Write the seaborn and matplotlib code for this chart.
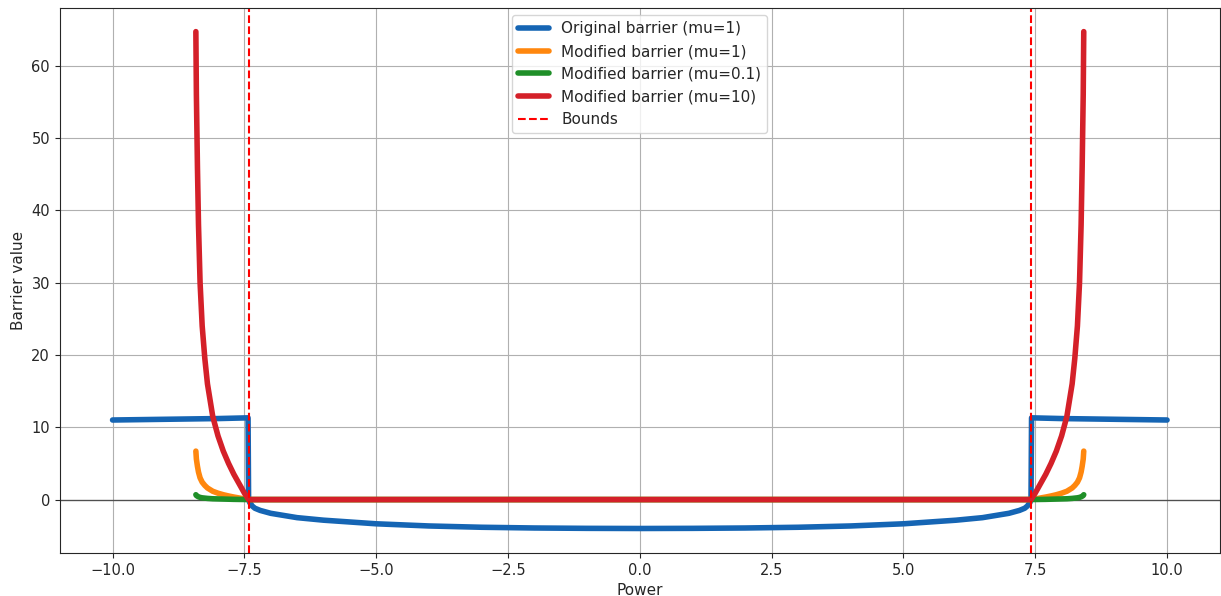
import pandas as pd
import seaborn as sns
import matplotlib
matplotlib.use('Agg')
import matplotlib.pyplot as plt


BOUND = 7.42

# original log barrier (mu=1)
blue_x = [-10.0, -9.0, -8.0, -7.43, -7.42, -7.40, -7.35, -7.30, -7.20, -7.00,
          -6.50, -6.00, -5.50, -5.00, -4.00, -3.00, -2.00, -1.00, 0.00,
          1.00, 2.00, 3.00, 4.00, 5.00, 5.50, 6.00, 6.50, 7.00, 7.20, 7.30,
          7.35, 7.40, 7.42, 7.43, 8.0, 9.0, 10.0]
blue_y = [11.0, 11.1, 11.2, 11.3, 0.2, -0.4, -0.9, -1.2, -1.5, -1.9,
          -2.5, -2.85, -3.1, -3.35, -3.65, -3.83, -3.93, -3.98, -4.0,
          -3.98, -3.93, -3.83, -3.65, -3.35, -3.1, -2.85, -2.5, -1.9, -1.5, -1.2,
          -0.9, -0.4, 0.2, 11.3, 11.2, 11.1, 11.0]

# modified barrier, shared x grid
mod_x = [-8.42, -8.41, -8.39, -8.37, -8.34, -8.30, -8.25, -8.20, -8.10, -8.00,
         -7.90, -7.80, -7.70, -7.60, -7.50, -7.42, 0.0,
         7.42, 7.50, 7.60, 7.70, 7.80, 7.90, 8.00, 8.10, 8.20, 8.25, 8.30,
         8.34, 8.37, 8.39, 8.41, 8.42]
mod_mu1 = [6.7, 5.6, 4.6, 3.8, 3.0, 2.4, 1.95, 1.6, 1.15, 0.88,
           0.67, 0.5, 0.35, 0.22, 0.09, 0.0, 0.0,
           0.0, 0.09, 0.22, 0.35, 0.5, 0.67, 0.88, 1.15, 1.6, 1.95, 2.4,
           3.0, 3.8, 4.6, 5.6, 6.7]
mod_mu01 = [0.67, 0.56, 0.46, 0.38, 0.3, 0.24, 0.2, 0.16, 0.11, 0.09,
            0.07, 0.05, 0.03, 0.02, 0.01, 0.0, 0.0,
            0.0, 0.01, 0.02, 0.03, 0.05, 0.07, 0.09, 0.11, 0.16, 0.2, 0.24,
            0.3, 0.38, 0.46, 0.56, 0.67]
mod_mu10 = [64.7, 56.0, 46.0, 38.0, 30.0, 24.0, 19.5, 16.0, 11.5, 8.8,
            6.7, 5.0, 3.5, 2.2, 0.9, 0.0, 0.0,
            0.0, 0.9, 2.2, 3.5, 5.0, 6.7, 8.8, 11.5, 16.0, 19.5, 24.0,
            30.0, 38.0, 46.0, 56.0, 64.7]


def main():
    sns.set_style('ticks')
    plt.rcParams['font.family'] = ['DejaVu Sans']

    fig, ax = plt.subplots(figsize=(12.21, 5.96), dpi=100)
    fig.subplots_adjust(left=0.049, right=0.999, top=0.987, bottom=0.072)

    ax.axhline(0, color='black', linewidth=1, alpha=0.55, zorder=1)

    orig = pd.DataFrame({'x': blue_x, 'y': blue_y})
    mod = pd.DataFrame({'x': mod_x, 'mu1': mod_mu1, 'mu01': mod_mu01, 'mu10': mod_mu10})

    sns.lineplot(data=orig, x='x', y='y', ax=ax, color='#1565b4', lw=4,
                 sort=False, estimator=None, label='Original barrier (mu=1)')
    sns.lineplot(data=mod, x='x', y='mu1', ax=ax, color='#ff870e', lw=4,
                 sort=False, estimator=None, label='Modified barrier (mu=1)')
    sns.lineplot(data=mod, x='x', y='mu01', ax=ax, color='#1f8f28', lw=4,
                 sort=False, estimator=None, label='Modified barrier (mu=0.1)')
    sns.lineplot(data=mod, x='x', y='mu10', ax=ax, color='#d42029', lw=4,
                 sort=False, estimator=None, label='Modified barrier (mu=10)')

    ax.axvline(-BOUND, color='red', linestyle='--', linewidth=1.5, label='Bounds')
    ax.axvline(BOUND, color='red', linestyle='--', linewidth=1.5)

    ax.set_xlim(-11, 11)
    ax.set_ylim(-7.4, 68.0)
    ax.grid(True, color='#b0b0b0', linewidth=0.8)
    ax.set_axisbelow(True)
    ax.tick_params(labelsize=10.5)
    ax.set_xlabel('Power', fontsize=11)
    ax.set_ylabel('Barrier value', fontsize=11)
    ax.legend(loc='upper center', fontsize=11)

    fig.savefig('out.png', dpi=100)


if __name__ == '__main__':
    main()
